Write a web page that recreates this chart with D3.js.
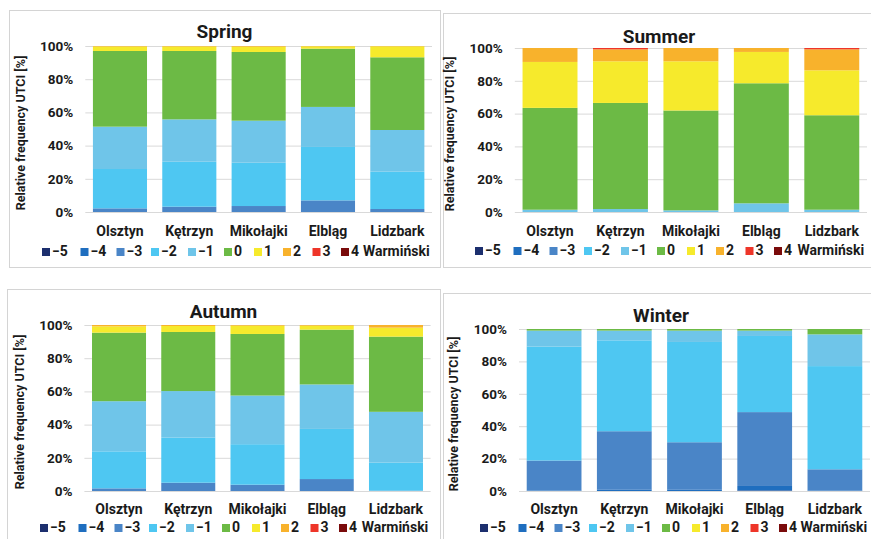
<!DOCTYPE html>
<html>
<head>
<meta charset="utf-8">
<script src="https://cdn.jsdelivr.net/npm/d3@7"></script>
<style>
  html, body { margin: 0; padding: 0; background: #fff; }
  svg { display: block; }
  text { font-family: Roboto, "Open Sans", sans-serif; font-weight: 700; fill: #1a1a1a; }
</style>
</head>
<body>
<svg id="chart" width="871" height="539"></svg>
<script>
// UTCI thermal-stress classes (from -5 extreme cold stress to 4 very strong heat stress)
const levels = ["−5", "−4", "−3", "−2", "−1", "0", "1", "2", "3", "4"];
const colors = ["#1c2f6e", "#1f6ebf", "#4a85c7", "#4ec7f2", "#6fc5e9", "#6cba45",
                "#f6ea2c", "#f8b22c", "#ee3529", "#7a0b0b"];
const stations = ["Olsztyn", "Kętrzyn", "Mikołajki", "Elbląg", "Lidzbark Warmiński"];
const yTicks = [0, 20, 40, 60, 80, 100];

// Relative frequency [%] per station, one column per UTCI class (order of `levels`)
const spring = [
  [0, 0, 2.2, 23.7, 25.5, 45.6, 2.7, 0.3, 0, 0],
  [0, 0, 3.2, 27.1, 25.5, 41.2, 2.7, 0.3, 0, 0],
  [0, 0, 3.6, 26.1, 25.3, 41.4, 3.2, 0.4, 0, 0],
  [0, 0, 7.0, 32.2, 24.1, 35.1, 1.4, 0.2, 0, 0],
  [0, 0, 1.8, 22.5, 25.1, 43.8, 6.6, 0.2, 0, 0]
];
const summer = [
  [0, 0, 0, 0, 1.4, 62.1, 28.0, 8.5, 0, 0],
  [0, 0, 0, 0, 1.8, 64.7, 25.4, 7.3, 0.8, 0],
  [0, 0, 0, 0, 1.0, 60.9, 30.0, 8.1, 0, 0],
  [0, 0, 0, 0, 5.3, 73.2, 19.1, 2.4, 0, 0],
  [0, 0, 0, 0, 1.4, 57.6, 27.4, 12.8, 0.8, 0]
];
const autumn = [
  [0, 0, 1.6, 22.3, 30.2, 41.3, 3.8, 0.8, 0, 0],
  [0, 0, 5.0, 27.2, 28.0, 35.6, 3.6, 0.6, 0, 0],
  [0, 0, 3.8, 24.4, 29.3, 37.1, 5.0, 0.4, 0, 0],
  [0, 0, 7.2, 30.2, 26.8, 33.0, 2.4, 0.4, 0, 0],
  [0, 0, 0.2, 16.9, 30.6, 45.3, 5.4, 1.6, 0, 0]
];
const winter = [
  [0, 0.3, 18.5, 70.3, 9.9, 1.0, 0, 0, 0, 0],
  [0, 1.0, 35.9, 56.1, 6.0, 1.0, 0, 0, 0, 0],
  [0, 1.0, 29.1, 61.9, 7.0, 1.0, 0, 0, 0, 0],
  [0.3, 2.8, 45.6, 47.0, 3.3, 1.0, 0, 0, 0, 0],
  [0, 0.2, 13.2, 63.7, 19.6, 3.3, 0, 0, 0, 0]
];

// Panel placement: frame box, plot extent, title / label / legend rows
const panels = [
  { title: "Spring", rows: spring, box: [9, 10, 431, 257],  x: [85.3, 432], y: [212, 46],  titleY: 33,  catY: 232, legX: 42,  legY: 252 },
  { title: "Summer", rows: summer, box: [443, 13, 432, 254], x: [514.8, 867], y: [212, 48], titleY: 38,  catY: 232, legX: 475, legY: 251 },
  { title: "Autumn", rows: autumn, box: [7, 289, 433, 262],  x: [84.4, 430.6], y: [491, 325], titleY: 313, catY: 510, legX: 40,  legY: 528 },
  { title: "Winter", rows: winter, box: [443, 293, 436, 260], x: [519, 870], y: [491, 329], titleY: 317, catY: 510, legX: 480, legY: 528 }
];
const legendOffsets = [0, 38.5, 74.5, 109, 146, 182, 212, 241, 270.5, 299];

const svg = d3.select("#chart");
svg.append("rect").attr("width", 871).attr("height", 539).attr("fill", "#fff");

panels.forEach(p => {
  const g = svg.append("g");
  const [bx, by, bw, bh] = p.box;

  g.append("rect")
    .attr("x", bx + 0.5).attr("y", by + 0.5)
    .attr("width", bw).attr("height", bh)
    .attr("fill", "#fff").attr("stroke", "#d4d4d4").attr("stroke-width", 1);

  const x = d3.scaleBand().domain(stations).range(p.x).paddingInner(0.22).paddingOuter(0.11);
  const y = d3.scaleLinear().domain([0, 100]).range(p.y);

  // Gridlines and percentage ticks
  const yAxis = g.append("g")
    .attr("transform", `translate(${p.x[0]},0)`)
    .call(d3.axisLeft(y).tickValues(yTicks).tickSize(-(p.x[1] - p.x[0])).tickPadding(12).tickFormat(d => d + "%"));
  yAxis.select(".domain").remove();
  yAxis.selectAll(".tick line").attr("stroke", "#d9d9d9").attr("stroke-width", 1);
  yAxis.selectAll(".tick text").style("font-size", "13.5px").attr("fill", "#1a1a1a");

  // Stacked bars
  const table = p.rows.map((r, i) => {
    const o = { station: stations[i] };
    levels.forEach((l, j) => { o[l] = r[j]; });
    return o;
  });
  const series = d3.stack().keys(levels)(table);
  g.append("g").selectAll("g")
    .data(series).join("g")
    .attr("fill", (d, i) => colors[i])
    .selectAll("rect")
    .data(d => d).join("rect")
    .attr("x", d => x(d.data.station))
    .attr("width", x.bandwidth())
    .attr("y", d => y(d[1]))
    .attr("height", d => Math.max(0, y(d[0]) - y(d[1])));

  // Station labels (the long name wraps onto a second line)
  const cat = g.append("g").selectAll("text")
    .data(stations).join("text")
    .attr("x", d => x(d) + x.bandwidth() / 2)
    .attr("y", p.catY)
    .attr("dominant-baseline", "middle")
    .attr("text-anchor", "middle")
    .style("font-size", "14px");
  cat.each(function (d) {
    const words = d.split(" ");
    const t = d3.select(this);
    words.forEach((w, k) => {
      t.append("tspan")
        .attr("x", x(d) + x.bandwidth() / 2 + (k > 0 ? -1 : 0))
        .attr("dy", k === 0 ? 0 : (p.legY - p.catY))
        .text(w);
    });
  });

  // Title
  g.append("text")
    .attr("x", bx + bw / 2).attr("y", p.titleY)
    .attr("text-anchor", "middle").attr("dominant-baseline", "middle")
    .style("font-size", "19px")
    .text(p.title);

  // Y-axis title
  const cy = (p.y[0] + p.y[1]) / 2 + 4;
  g.append("text")
    .attr("transform", `translate(${p.x[0] - 64},${cy}) rotate(-90)`)
    .attr("text-anchor", "middle").attr("dominant-baseline", "middle")
    .style("font-size", "12.5px")
    .text("Relative frequency UTCI [%]");

  // Legend
  const leg = g.append("g").selectAll("g")
    .data(levels).join("g")
    .attr("transform", (d, i) => `translate(${p.legX + legendOffsets[i]},${p.legY})`);
  leg.append("rect")
    .attr("x", 0).attr("y", -4).attr("width", 8).attr("height", 8)
    .attr("fill", (d, i) => colors[i]);
  leg.append("text")
    .attr("x", 10).attr("y", 0)
    .attr("dominant-baseline", "middle")
    .style("font-size", "14px")
    .text(d => d);
});
</script>
</body>
</html>
